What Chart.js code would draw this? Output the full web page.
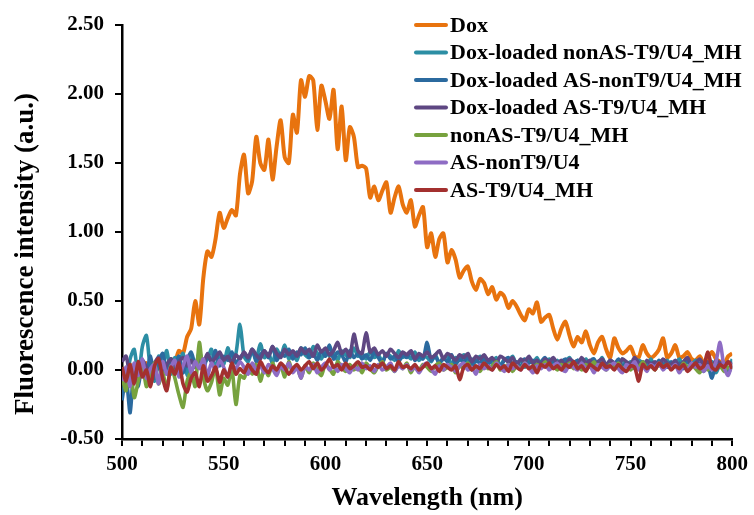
<!DOCTYPE html>
<html>
<head>
<meta charset="utf-8">
<script src="https://cdn.jsdelivr.net/npm/chart.js@4.4.1/dist/chart.umd.min.js"></script>
<style>
  html, body { margin: 0; padding: 0; background: #fff; }
  #wrap { position: relative; width: 754px; height: 515px; }
</style>
</head>
<body>
<div id="wrap"><canvas id="chart" width="754" height="515"></canvas></div>
<script>
// wavelength grid (nm), 2 nm steps
const wavelengths = [
  500, 502, 504, 506, 508, 510, 512, 514, 516, 518, 520, 522, 524, 526, 528,
  530, 532, 534, 536, 538, 540, 542, 544, 546, 548, 550, 552, 554, 556, 558,
  560, 562, 564, 566, 568, 570, 572, 574, 576, 578, 580, 582, 584, 586, 588,
  590, 592, 594, 596, 598, 600, 602, 604, 606, 608, 610, 612, 614, 616, 618,
  620, 622, 624, 626, 628, 630, 632, 634, 636, 638, 640, 642, 644, 646, 648,
  650, 652, 654, 656, 658, 660, 662, 664, 666, 668, 670, 672, 674, 676, 678,
  680, 682, 684, 686, 688, 690, 692, 694, 696, 698, 700, 702, 704, 706, 708,
  710, 712, 714, 716, 718, 720, 722, 724, 726, 728, 730, 732, 734, 736, 738,
  740, 742, 744, 746, 748, 750, 752, 754, 756, 758, 760, 762, 764, 766, 768,
  770, 772, 774, 776, 778, 780, 782, 784, 786, 788, 790, 792, 794, 796, 798,
  800
]

const dox = [
  0.02, -0.03, 0.04, -0.02, 0.03, 0.00, 0.05, -0.01, 0.03, 0.01, 0.06, 0.03, 0.08, 0.06, 0.14,
  0.12, 0.24, 0.30, 0.50, 0.33, 0.67, 0.86, 0.82, 0.95, 1.14, 1.03, 1.10, 1.16, 1.12, 1.42,
  1.56, 1.28, 1.37, 1.69, 1.50, 1.45, 1.67, 1.38, 1.62, 1.81, 1.54, 1.50, 1.85, 1.72, 2.10,
  1.98, 2.13, 2.10, 1.74, 2.06, 1.95, 1.82, 2.03, 1.60, 1.91, 1.52, 1.76, 1.69, 1.47, 1.48,
  1.46, 1.25, 1.33, 1.23, 1.30, 1.36, 1.14, 1.25, 1.33, 1.20, 1.14, 1.23, 1.04, 1.12, 1.18,
  0.89, 0.99, 0.82, 0.95, 0.99, 0.78, 0.87, 0.80, 0.67, 0.72, 0.75, 0.64, 0.58, 0.66, 0.63,
  0.55, 0.60, 0.51, 0.56, 0.53, 0.45, 0.50, 0.46, 0.40, 0.36, 0.44, 0.41, 0.49, 0.35, 0.38,
  0.40, 0.30, 0.22, 0.30, 0.35, 0.25, 0.17, 0.24, 0.20, 0.28, 0.18, 0.12, 0.20, 0.24, 0.15,
  0.09, 0.23, 0.16, 0.12, 0.14, 0.17, 0.10, 0.09, 0.18, 0.12, 0.09, 0.11, 0.15, 0.23, 0.09,
  0.12, 0.18, 0.09, 0.10, 0.13, 0.08, 0.07, 0.10, 0.05, 0.09, 0.13, 0.08, 0.06, 0.04, 0.10,
  0.12
]

const doxNonAS = [
  0.02, -0.10, 0.08, 0.15, -0.05, 0.17, 0.25, 0.00, -0.08, 0.10, 0.04, 0.14, -0.03, 0.09, 0.06,
  0.12, -0.04, 0.10, 0.02, 0.13, 0.05, 0.08, 0.15, 0.00, 0.11, 0.04, 0.16, 0.07, 0.12, 0.33,
  0.10, 0.06, 0.14, 0.08, 0.19, 0.09, 0.12, 0.05, 0.15, 0.10, 0.18, 0.08, 0.13, 0.07, 0.16,
  0.11, 0.09, 0.17, 0.12, 0.08, 0.15, 0.10, 0.13, 0.07, 0.14, 0.11, 0.09, 0.16, 0.10, 0.12,
  0.08, 0.13, 0.09, 0.11, 0.06, 0.12, 0.10, 0.07, 0.14, 0.09, 0.11, 0.08, 0.13, 0.07, 0.10,
  0.09, 0.06, 0.11, 0.05, 0.08, 0.10, 0.04, 0.09, 0.07, 0.11, 0.05, 0.08, 0.06, 0.10, 0.04,
  0.07, 0.05, 0.09, 0.03, 0.08, 0.06, 0.10, 0.04, 0.07, 0.02, 0.08, 0.05, 0.09, 0.03, 0.06,
  0.08, 0.04, 0.07, 0.02, 0.06, 0.09, 0.03, 0.07, 0.05, 0.08, 0.02, 0.06, 0.04, 0.09, 0.03,
  0.07, 0.05, 0.02, 0.08, 0.04, 0.06, 0.01, 0.07, 0.05, 0.03, 0.08, 0.02, 0.06, 0.04, 0.07,
  0.03, 0.05, 0.08, 0.02, 0.06, 0.04, 0.07, 0.01, 0.05, 0.03, 0.06, -0.02, 0.04, 0.02, -0.03,
  0.08
]

const doxASnonT9 = [
  -0.22, -0.05, -0.31, 0.04, -0.12, 0.06, -0.02, 0.10, -0.06, 0.05, 0.12, -0.03, 0.08, 0.02, 0.10,
  -0.02, 0.07, 0.13, 0.04, 0.09, -0.01, 0.11, 0.06, 0.14, 0.03, 0.10, 0.07, 0.13, 0.05, 0.09,
  0.12, 0.08, 0.15, 0.06, 0.11, 0.14, 0.09, 0.17, 0.07, 0.12, 0.10, 0.15, 0.08, 0.13, 0.11,
  0.16, 0.09, 0.12, 0.07, 0.14, 0.10, 0.18, 0.08, 0.13, 0.11, 0.06, 0.14, 0.09, 0.12, 0.08,
  0.11, 0.07, 0.13, 0.09, 0.05, 0.12, 0.08, 0.10, 0.06, 0.11, 0.09, 0.13, 0.07, 0.10, 0.08,
  0.20, 0.07, 0.10, 0.05, 0.09, 0.06, 0.11, 0.04, 0.08, 0.06, 0.10, 0.03, 0.07, 0.05, 0.09,
  0.04, 0.08, 0.06, 0.03, 0.07, 0.09, 0.04, 0.06, 0.02, 0.08, 0.05, 0.07, 0.03, 0.06, 0.09,
  0.04, 0.07, 0.03, 0.06, 0.08, 0.02, 0.05, 0.07, 0.04, 0.01, 0.06, 0.08, 0.03, 0.05, 0.02,
  0.06, 0.04, 0.08, 0.03, 0.05, 0.02, 0.07, 0.04, 0.06, 0.01, 0.05, 0.03, 0.07, 0.04, 0.02,
  0.06, 0.03, 0.05, 0.01, 0.07, 0.04, 0.02, 0.05, -0.01, 0.03, -0.06, 0.04, 0.02, 0.05, 0.00,
  0.03
]

const doxAST9 = [
  0.06, 0.10, -0.04, 0.03, -0.08, 0.07, 0.02, -0.03, 0.05, 0.09, -0.02, 0.04, 0.08, 0.01, 0.06,
  0.09, 0.03, 0.07, 0.02, 0.10, 0.05, 0.12, 0.06, 0.09, 0.13, 0.07, 0.10, 0.05, 0.11, 0.08,
  0.13, 0.09, 0.15, 0.11, 0.08, 0.14, 0.10, 0.17, 0.12, 0.09, 0.15, 0.11, 0.14, 0.10, 0.16,
  0.12, 0.15, 0.10, 0.18, 0.13, 0.16, 0.11, 0.14, 0.20, 0.12, 0.15, 0.10, 0.26, 0.14, 0.12,
  0.27, 0.13, 0.16, 0.11, 0.14, 0.10, 0.15, 0.12, 0.09, 0.13, 0.11, 0.14, 0.08, 0.12, 0.10,
  0.13, 0.09, 0.11, 0.14, 0.08, 0.12, 0.10, 0.07, 0.11, 0.09, 0.12, 0.06, 0.10, 0.08, 0.11,
  0.07, 0.09, 0.05, 0.10, 0.08, 0.06, 0.09, 0.04, 0.08, 0.06, 0.10, 0.05, 0.07, 0.04, 0.08,
  0.06, 0.09, 0.05, 0.07, 0.03, 0.08, 0.06, 0.04, 0.09, 0.05, 0.07, 0.03, 0.06, 0.08, 0.04,
  0.07, 0.05, 0.03, 0.08, 0.06, 0.04, 0.09, 0.05, 0.02, 0.07, 0.04, 0.06, 0.03, 0.08, 0.05,
  0.04, 0.07, 0.02, 0.06, 0.09, 0.03, 0.05, 0.08, 0.04, 0.06, 0.02, 0.07, 0.05, 0.03, 0.06,
  0.04
]

const nonAST9 = [
  -0.05, -0.15, 0.02, -0.20, -0.08, 0.04, -0.12, -0.03, 0.05, -0.10, -0.02, -0.14, 0.03, -0.06, -0.18,
  -0.27, -0.08, -0.02, -0.12, 0.20, -0.05, -0.15, -0.09, 0.02, -0.18, -0.06, -0.11, 0.01, -0.25, -0.04,
  -0.06, 0.02, -0.03, 0.04, -0.08, 0.01, -0.04, 0.05, -0.02, 0.03, -0.05, 0.06, -0.01, 0.02, -0.06,
  0.03, -0.02, 0.05, 0.00, -0.04, 0.04, 0.01, -0.03, 0.06, 0.02, -0.01, 0.04, 0.00, 0.03, -0.02,
  0.05, 0.01, -0.02, 0.03, 0.06, 0.00, 0.02, -0.01, 0.04, 0.01, 0.05, -0.02, 0.03, 0.00, 0.04,
  0.02, -0.01, 0.03, 0.05, 0.00, 0.02, 0.04, -0.02, 0.03, 0.01, 0.05, 0.00, 0.02, -0.01, 0.04,
  0.01, 0.03, 0.06, 0.00, 0.02, 0.04, -0.01, 0.03, 0.01, 0.05, 0.02, 0.00, 0.04, 0.02, 0.06,
  0.01, 0.03, 0.00, 0.04, 0.02, 0.05, 0.01, 0.03, 0.00, 0.04, 0.02, 0.06, 0.01, 0.03, 0.00,
  0.04, 0.02, 0.05, 0.01, 0.03, 0.00, 0.04, 0.02, 0.06, 0.01, 0.03, 0.00, 0.05, 0.02, 0.04,
  0.01, 0.03, 0.00, 0.05, 0.02, 0.04, 0.01, -0.02, 0.03, 0.00, 0.04, 0.01, 0.03, -0.01, 0.02,
  0.00
]

const asNonT9 = [
  -0.08, 0.02, -0.12, 0.05, -0.04, 0.08, -0.06, 0.01, 0.04, -0.10, 0.06, -0.03, 0.02, 0.07, -0.05,
  0.03, 0.10, -0.02, 0.06, 0.01, 0.08, -0.04, 0.05, 0.00, 0.07, 0.02, -0.05, 0.04, 0.01, 0.06,
  0.02, -0.03, 0.05, 0.00, 0.03, -0.02, 0.04, 0.01, -0.04, 0.03, 0.00, 0.05, -0.02, 0.02, -0.06,
  0.03, 0.00, 0.04, -0.02, 0.02, 0.05, 0.00, 0.03, -0.01, 0.04, 0.01, -0.02, 0.03, 0.00, 0.05,
  0.01, 0.03, -0.01, 0.04, 0.00, 0.02, 0.05, -0.01, 0.03, 0.01, 0.04, 0.00, 0.02, -0.02, 0.03,
  0.05, 0.01, -0.03, 0.03, 0.00, 0.04, 0.02, -0.01, 0.03, 0.05, 0.00, 0.02, -0.03, 0.04, 0.01,
  0.03, 0.00, 0.05, 0.02, -0.01, 0.04, 0.01, 0.03, 0.00, 0.05, 0.02, -0.02, 0.03, 0.01, 0.04,
  0.00, 0.03, 0.05, 0.01, -0.01, 0.04, 0.02, 0.00, 0.05, 0.01, 0.03, -0.02, 0.04, 0.02, 0.00,
  0.03, 0.05, 0.01, -0.02, 0.04, 0.02, 0.06, 0.00, 0.03, -0.01, 0.04, 0.02, 0.05, 0.00, 0.03,
  0.01, 0.04, -0.02, 0.03, 0.00, 0.05, 0.02, 0.04, -0.01, 0.03, 0.00, 0.06, 0.20, 0.02, -0.04,
  0.05
]

const asT9 = [
  0.02, -0.08, 0.04, -0.10, 0.06, -0.05, 0.00, -0.12, 0.03, 0.08, -0.06, -0.15, 0.02, -0.03, 0.05,
  -0.10, -0.16, -0.06, -0.02, -0.12, 0.03, -0.08, -0.04, 0.02, -0.09, 0.00, -0.05, 0.05, -0.03, 0.01,
  -0.02, 0.04, 0.00, -0.03, 0.06, 0.01, -0.02, 0.03, 0.00, 0.05, 0.02, -0.03, 0.01, 0.04, 0.00,
  0.03, 0.06, 0.01, 0.05, 0.00, 0.03, 0.08, 0.02, 0.04, 0.00, 0.05, 0.01, 0.03, 0.06, 0.02,
  0.03, 0.00, 0.04, 0.02, 0.05, 0.01, 0.03, 0.00, 0.06, 0.02, 0.03, 0.01, 0.04, 0.00, 0.02,
  0.05, 0.01, 0.03, -0.01, 0.04, 0.02, 0.00, 0.03, -0.07, 0.02, 0.04, 0.00, 0.03, 0.01, 0.05,
  0.02, 0.00, 0.04, 0.01, 0.03, -0.01, 0.05, 0.02, 0.00, 0.04, 0.01, 0.03, -0.02, 0.04, 0.02,
  0.05, 0.01, 0.03, 0.00, 0.04, 0.02, 0.06, 0.01, 0.03, -0.01, 0.04, 0.02, 0.00, 0.05, 0.02,
  0.03, 0.00, 0.04, 0.01, -0.01, 0.03, 0.02, -0.08, 0.04, 0.01, 0.03, 0.00, 0.05, 0.02, 0.04,
  0.00, 0.03, 0.01, 0.04, -0.01, 0.02, 0.05, 0.01, 0.03, 0.13, 0.02, 0.00, 0.04, 0.02, 0.06,
  0.01
]

const seriesNames = [
  'Dox',
  'Dox-loaded nonAS-T9/U4_MH',
  'Dox-loaded AS-nonT9/U4_MH',
  'Dox-loaded AS-T9/U4_MH',
  'nonAS-T9/U4_MH',
  'AS-nonT9/U4',
  'AS-T9/U4_MH'
]
const seriesValues = [dox, doxNonAS, doxASnonT9, doxAST9, nonAST9, asNonT9, asT9]
const seriesColors = ['#E8730E', '#2C8EA4', '#2B6A9F', '#5E4782', '#77A23E', '#8E6CC4', '#A3302F']

const yTicks = [-0.5, 0, 0.5, 1, 1.5, 2, 2.5]
const yTitle = 'Fluorescence intensity (a.u.)'

const FONT = "'Liberation Serif', 'Times New Roman', serif"

// Excel-style legend drawn inside the plot area, top right
const insideLegend = {
  id: 'insideLegend',
  afterDraw(chart) {
    const c = chart.ctx
    c.save()
    c.font = `bold 22px ${FONT}`
    c.textBaseline = 'middle'
    c.textAlign = 'left'
    chart.data.datasets.forEach((ds, i) => {
      const y = 25 + i * 27.5
      c.strokeStyle = ds.borderColor
      c.lineWidth = 4
      c.lineCap = 'round'
      c.beginPath(); c.moveTo(416, y); c.lineTo(446, y); c.stroke()
      c.fillStyle = '#000'
      c.fillText(ds.label, 450, y + 1)
    })
    c.restore()
  }
}

// y title sits a little below the plot's middle in the original
const yAxisTitle = {
  id: 'yAxisTitle',
  afterDraw(chart) {
    const c = chart.ctx
    c.save()
    c.translate(26, 254)
    c.rotate(-Math.PI / 2)
    c.font = `bold 27px ${FONT}`
    c.fillStyle = '#000'
    c.textAlign = 'center'
    c.textBaseline = 'middle'
    c.fillText(yTitle, 0, 0)
    c.restore()
  }
}

new Chart(document.getElementById('chart'), {
  type: 'line',
  data: {
    datasets: seriesNames.map((name, i) => ({
      label: name,
      data: seriesValues[i].map((v, j) => ({ x: wavelengths[j], y: v })),
      borderColor: seriesColors[i],
      backgroundColor: seriesColors[i],
      borderWidth: i === 0 ? 4 : 3.6,
      pointRadius: 0,
      tension: 0.25,
      fill: false,
      order: seriesNames.length - i
    }))
  },
  options: {
    responsive: false,
    animation: false,
    layout: { padding: { top: 25, right: 20, left: 0, bottom: 0 } },
    plugins: {
      legend: { display: false },
      tooltip: { enabled: false }
    },
    scales: {
      x: {
        type: 'linear',
        min: 500,
        max: 800,
        border: { display: true, color: '#000', width: 2.5 },
        grid: { display: true, drawOnChartArea: false, drawTicks: true, tickLength: 7, color: '#000', lineWidth: 2 },
        ticks: {
          stepSize: 10,
          autoSkip: false,
          maxRotation: 0,
          color: '#000',
          padding: 6,
          font: { family: FONT, size: 21, weight: 'bold' },
          callback: v => (v % 50 === 0 ? String(v) : '')
        },
        title: {
          display: true,
          text: 'Wavelength (nm)',
          color: '#000',
          font: { family: FONT, size: 26, weight: 'bold' },
          padding: { top: 0, bottom: 1 }
        },
        afterFit: s => { s.height = 76 }
      },
      y: {
        min: -0.5,
        max: 2.5,
        border: { display: true, color: '#000', width: 2.5 },
        grid: { display: true, drawOnChartArea: false, drawTicks: true, tickLength: 7, color: '#000', lineWidth: 2 },
        afterBuildTicks: s => { s.ticks = yTicks.map(v => ({ value: v })) },
        ticks: {
          color: '#000',
          padding: 11,
          font: { family: FONT, size: 21, weight: 'bold' },
          callback: v => Number(v).toFixed(2)
        },
        title: { display: false },
        afterFit: s => { s.width = 122 }
      }
    }
  },
  plugins: [insideLegend, yAxisTitle]
})
</script>
</body>
</html>
